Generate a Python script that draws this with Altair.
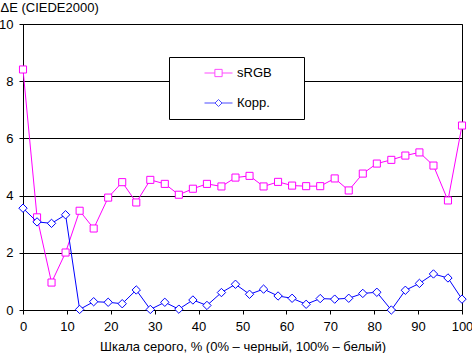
import altair as alt
import pandas as pd

series_names = ["sRGB", "Корр."]
series_colors = ["#FF00FF", "#0000FF"]
x_pct = [0, 3.2, 6.5, 9.7, 12.9, 16.1, 19.4, 22.6, 25.8, 29.0, 32.3, 35.5, 38.7, 41.9, 45.2, 48.4,
         51.6, 54.8, 58.1, 61.3, 64.5, 67.7, 71.0, 74.2, 77.4, 80.6, 83.9, 87.1, 90.3, 93.5, 96.8, 100]
srgb = [8.41, 3.24, 0.96, 2.01, 3.47, 2.85, 3.93, 4.47, 3.76, 4.55, 4.41, 4.03, 4.24, 4.41, 4.32, 4.63,
        4.69, 4.32, 4.48, 4.35, 4.33, 4.33, 4.60, 4.18, 4.77, 5.12, 5.25, 5.40, 5.51, 5.05, 3.83, 6.45]
korr = [3.56, 3.08, 3.03, 3.33, 0.02, 0.29, 0.27, 0.22, 0.70, 0.02, 0.27, 0.03, 0.35, 0.16, 0.61, 0.90,
        0.55, 0.73, 0.49, 0.41, 0.20, 0.40, 0.38, 0.41, 0.58, 0.62, 0.00, 0.69, 0.93, 1.26, 1.12, 0.38]
x_ticks = [0, 10, 20, 30, 40, 50, 60, 70, 80, 90, 100]
y_ticks = [0, 2, 4, 6, 8, 10]

rows = []
for xv, v in zip(x_pct, srgb):
    rows.append({"x": xv, "v": v, "series": series_names[0]})
for xv, v in zip(x_pct, korr):
    rows.append({"x": xv, "v": v, "series": series_names[1]})
df = pd.DataFrame(rows)

FONT = "Liberation Sans"

x_enc = alt.X("x:Q", scale=alt.Scale(domain=[0, 100], nice=False),
              axis=alt.Axis(values=x_ticks, grid=False, tickSize=4, labelPadding=6, labelFlush=False,
                            title="Шкала серого, % (0% – черный, 100% – белый)",
                            titleY=40, titleBaseline="alphabetic"))
y_enc = alt.Y("v:Q", scale=alt.Scale(domain=[0, 10], nice=False),
              axis=alt.Axis(values=y_ticks, grid=True, tickSize=4, labelPadding=6, labelFlush=False,
                            title="ΔE (CIEDE2000)", titleAngle=0, titleAlign="left",
                            titleX=-23, titleY=-13, titleBaseline="alphabetic"))

base = alt.Chart(df)

def series_layers(name, color, shape, size):
    sub = base.transform_filter(alt.datum.series == name)
    line = sub.mark_line(strokeWidth=1, color=color).encode(x=x_enc, y=y_enc)
    pts = sub.mark_point(shape=shape, size=size, filled=True, fill="white",
                         stroke=color, strokeWidth=1, opacity=1).encode(x=x_enc, y=y_enc)
    return line, pts

l1, p1 = series_layers("sRGB", "#FF00FF", "square", 50)
l2, p2 = series_layers("Корр.", "#0000FF", "diamond", 70)

legend_paths = [
    "M-1,0L-0.26,0M-0.26,-0.26L0.26,-0.26L0.26,0.26L-0.26,0.26ZM0.26,0L1,0",
    "M-1,0L-0.25,0M-0.25,0L0,-0.25L0.25,0L0,0.25ZM0.25,0L1,0",
]
leg = alt.Legend(title="XXX", titleOrient="right", titlePadding=4,
                 titleColor="white", titleFontSize=13, titleFont=FONT, titleFontWeight="normal",
                 orient="none", legendX=146, legendY=33, padding=1,
                 strokeColor="black", fillColor="white", symbolSize=784, clipHeight=30,
                 symbolOffset=34, labelOffset=4, rowPadding=0, symbolStrokeWidth=1,
                 symbolFillColor="white", labelFont=FONT, labelFontSize=13, labelColor="black")
legend_layer = base.transform_filter("false").mark_point(filled=False, strokeWidth=1).encode(
    x=x_enc, y=y_enc,
    stroke=alt.Stroke("series:N", scale=alt.Scale(domain=series_names, range=series_colors), legend=leg),
    shape=alt.Shape("series:N", scale=alt.Scale(domain=series_names, range=legend_paths), legend=leg),
    fill=alt.value("white"),
)

chart = alt.layer(l1, p1, l2, p2, legend_layer).properties(
    width=439, height=286,
    autosize=alt.AutoSizeParams(type="none"),
    padding={"left": 23, "top": 24, "right": 10, "bottom": 43},
).configure_view(stroke="black", strokeWidth=1).configure_axis(
    domainColor="black", tickColor="black", gridColor="black", gridWidth=1, domainWidth=1,
    labelColor="black", titleColor="black", labelFont=FONT, titleFont=FONT,
    labelFontSize=13, titleFontSize=13, titleFontWeight="normal",
)

chart.save("out.html", embed_options={"renderer": "svg", "actions": False})
